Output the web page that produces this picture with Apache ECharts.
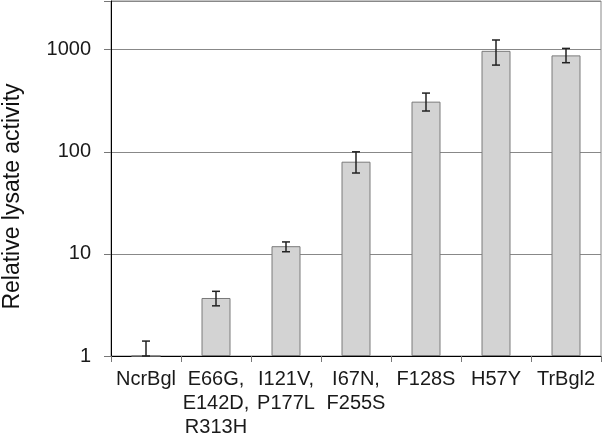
<!DOCTYPE html>
<html>
<head>
<meta charset="utf-8">
<script src="https://cdn.jsdelivr.net/npm/echarts@6/dist/echarts.min.js"></script>
<style>
  html, body { margin: 0; padding: 0; background: #fff; }
  #main { width: 603px; height: 438px; }
</style>
</head>
<body>
<div id="main"></div>
<script>
// data
var categories = ['NcrBgl', 'E66G,\nE142D,\nR313H', 'I121V,\nP177L', 'I67N,\nF255S', 'F128S', 'H57Y', 'TrBgl2'];
var activity = [1, 3.7, 11.9, 80, 310, 975, 880];
var errLow = [1, 3.1, 10.5, 62, 251, 707, 746];
var errHigh = [1.4, 4.3, 13.1, 100, 376, 1245, 1030];
var yTickLabels = [1, 10, 100, 1000];

var myChart = echarts.init(document.getElementById('main'));

var errData = categories.map(function (c, i) {
    return [i, errLow[i], errHigh[i]];
});

var option = {
    animation: false,
    grid: {
        left: 111, right: 2, top: 1, bottom: 82,
        outerBoundsMode: 'none',
        containLabel: false,
        show: true, borderColor: '#888', borderWidth: 1
    },
    xAxis: {
        type: 'category',
        data: categories,
        axisLine: { lineStyle: { color: '#000', width: 1 } },
        axisTick: { show: true, alignWithLabel: false, length: 6, lineStyle: { color: '#777' } },
        axisLabel: {
            interval: 0, margin: 11, fontSize: 20, lineHeight: 24,
            color: '#1a1a1a', fontFamily: 'Liberation Sans'
        }
    },
    yAxis: {
        type: 'log',
        logBase: 10,
        min: 1,
        max: 3000,
        name: 'Relative lysate activity',
        nameLocation: 'middle',
        nameGap: 87,
        nameTextStyle: { fontSize: 23, color: '#111', fontFamily: 'Liberation Sans', padding: [0, 36, 0, 0] },
        axisLine: { show: true, lineStyle: { color: '#000', width: 1 } },
        axisTick: { show: true, length: 7, lineStyle: { color: '#777' } },
        splitLine: { show: true, lineStyle: { color: '#888', width: 1 } },
        axisLabel: {
            margin: 20, fontSize: 20, color: '#1a1a1a', fontFamily: 'Liberation Sans',
            formatter: function (v) {
                var r = Math.round(v);
                return yTickLabels.indexOf(r) >= 0 && Math.abs(v - r) < 1e-6 ? String(r) : '';
            }
        }
    },
    series: [{
        type: 'bar',
        data: activity,
        barWidth: 29,
        itemStyle: { color: '#d3d3d3', borderColor: '#7a7a7a', borderWidth: 1 }
    }, {
        type: 'custom',
        data: errData,
        z: 5,
        renderItem: function (params, api) {
            var x = api.value(0);
            var lo = api.coord([x, api.value(1)]);
            var hi = api.coord([x, api.value(2)]);
            var w = 4;
            var st = { stroke: '#222', lineWidth: 1.5 };
            return {
                type: 'group',
                children: [
                    { type: 'line', shape: { x1: hi[0], y1: hi[1], x2: lo[0], y2: lo[1] }, style: st },
                    { type: 'line', shape: { x1: hi[0] - w, y1: hi[1], x2: hi[0] + w, y2: hi[1] }, style: st },
                    { type: 'line', shape: { x1: lo[0] - w, y1: lo[1], x2: lo[0] + w, y2: lo[1] }, style: st }
                ]
            };
        }
    }]
};

myChart.setOption(option);
</script>
</body>
</html>
